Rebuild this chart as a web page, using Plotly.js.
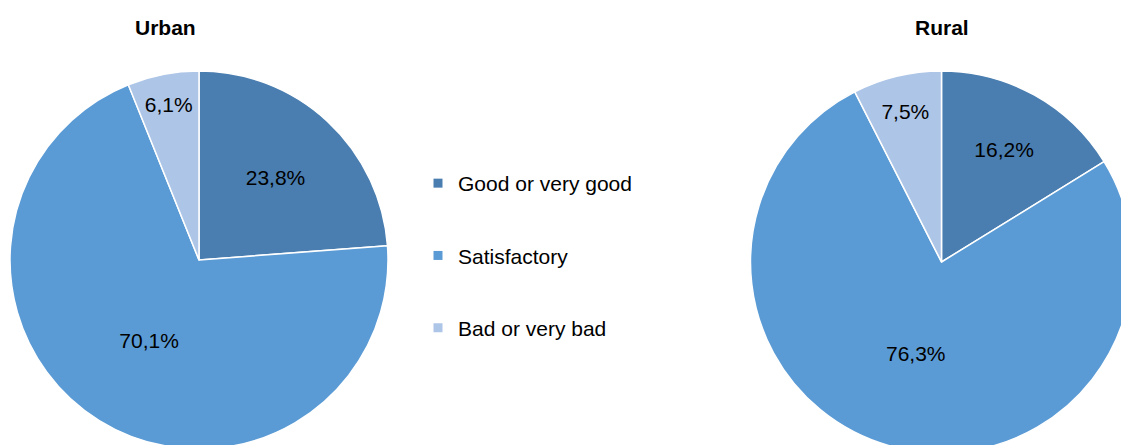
<!DOCTYPE html>
<html>
<head>
<meta charset="utf-8">
<script src="https://cdn.plot.ly/plotly-3.0.1.min.js"></script>
<style>
  html, body { margin: 0; padding: 0; overflow: hidden; background: #fff; }
  #chart { width: 1200px; height: 520px; }
</style>
</head>
<body>
<div id="chart"></div>
<script>
// ---- data ----
const categories = ["Good or very good", "Satisfactory", "Bad or very bad"];
const urbanValues = [23.8, 70.1, 6.1];
const ruralValues = [16.2, 76.3, 7.5];
const chartTitles = ["Urban", "Rural"];
const sliceColors = ["#4A7EB0", "#5B9BD5", "#ADC5E7"];

// ---- layout constants ----
const W = 1200, H = 520;
const FONT = "Liberation Sans, Arial, Helvetica, sans-serif";

function pieTrace(values, dom) {
  return {
    type: "pie",
    labels: categories,
    values: values,
    sort: false,
    direction: "clockwise",
    rotation: 0,
    domain: dom,
    marker: { colors: sliceColors, line: { color: "#ffffff", width: 1.5 } },
    texttemplate: "%{value:.1f}%",
    textposition: "inside",
    insidetextorientation: "horizontal",
    textfont: { family: FONT, size: 21, color: "#000000" },
    hoverinfo: "skip",
    showlegend: false
  };
}

const traces = [
  pieTrace(urbanValues, { x: [10 / W, 388 / W], y: [71 / H, 449 / H] }),
  pieTrace(ruralValues, { x: [750.5 / W, 1132.5 / W], y: [67 / H, 449 / H] })
];

// legend entries (one per category)
categories.forEach((c, i) => {
  traces.push({
    type: "scatter",
    mode: "markers",
    x: [null], y: [null],
    name: c,
    legendgroup: "g" + i,
    marker: { symbol: "square", size: 9, color: sliceColors[i] },
    hoverinfo: "skip",
    showlegend: true
  });
});

const layout = {
  width: W,
  height: H,
  margin: { l: 0, r: 0, t: 0, b: 0 },
  paper_bgcolor: "#ffffff",
  plot_bgcolor: "#ffffff",
  separators: ",.",
  font: { family: FONT, size: 21, color: "#000000" },
  xaxis: { visible: false },
  yaxis: { visible: false },
  showlegend: true,
  legend: {
    x: 418 / W,
    xanchor: "left",
    y: (H - 163) / H,
    yanchor: "top",
    tracegroupgap: 42,
    font: { family: FONT, size: 21, color: "#000000" },
    bgcolor: "rgba(0,0,0,0)"
  },
  annotations: [
    { text: chartTitles[0], x: 165 / W, y: (H - 27) / H, xref: "paper", yref: "paper",
      xanchor: "center", yanchor: "middle", showarrow: false,
      font: { family: FONT, size: 21, weight: "bold", color: "#000000" } },
    { text: chartTitles[1], x: 941.5 / W, y: (H - 27) / H, xref: "paper", yref: "paper",
      xanchor: "center", yanchor: "middle", showarrow: false,
      font: { family: FONT, size: 21, weight: "bold", color: "#000000" } }
  ]
};

Plotly.newPlot("chart", traces, layout, { displayModeBar: false, staticPlot: true });
</script>
</body>
</html>
